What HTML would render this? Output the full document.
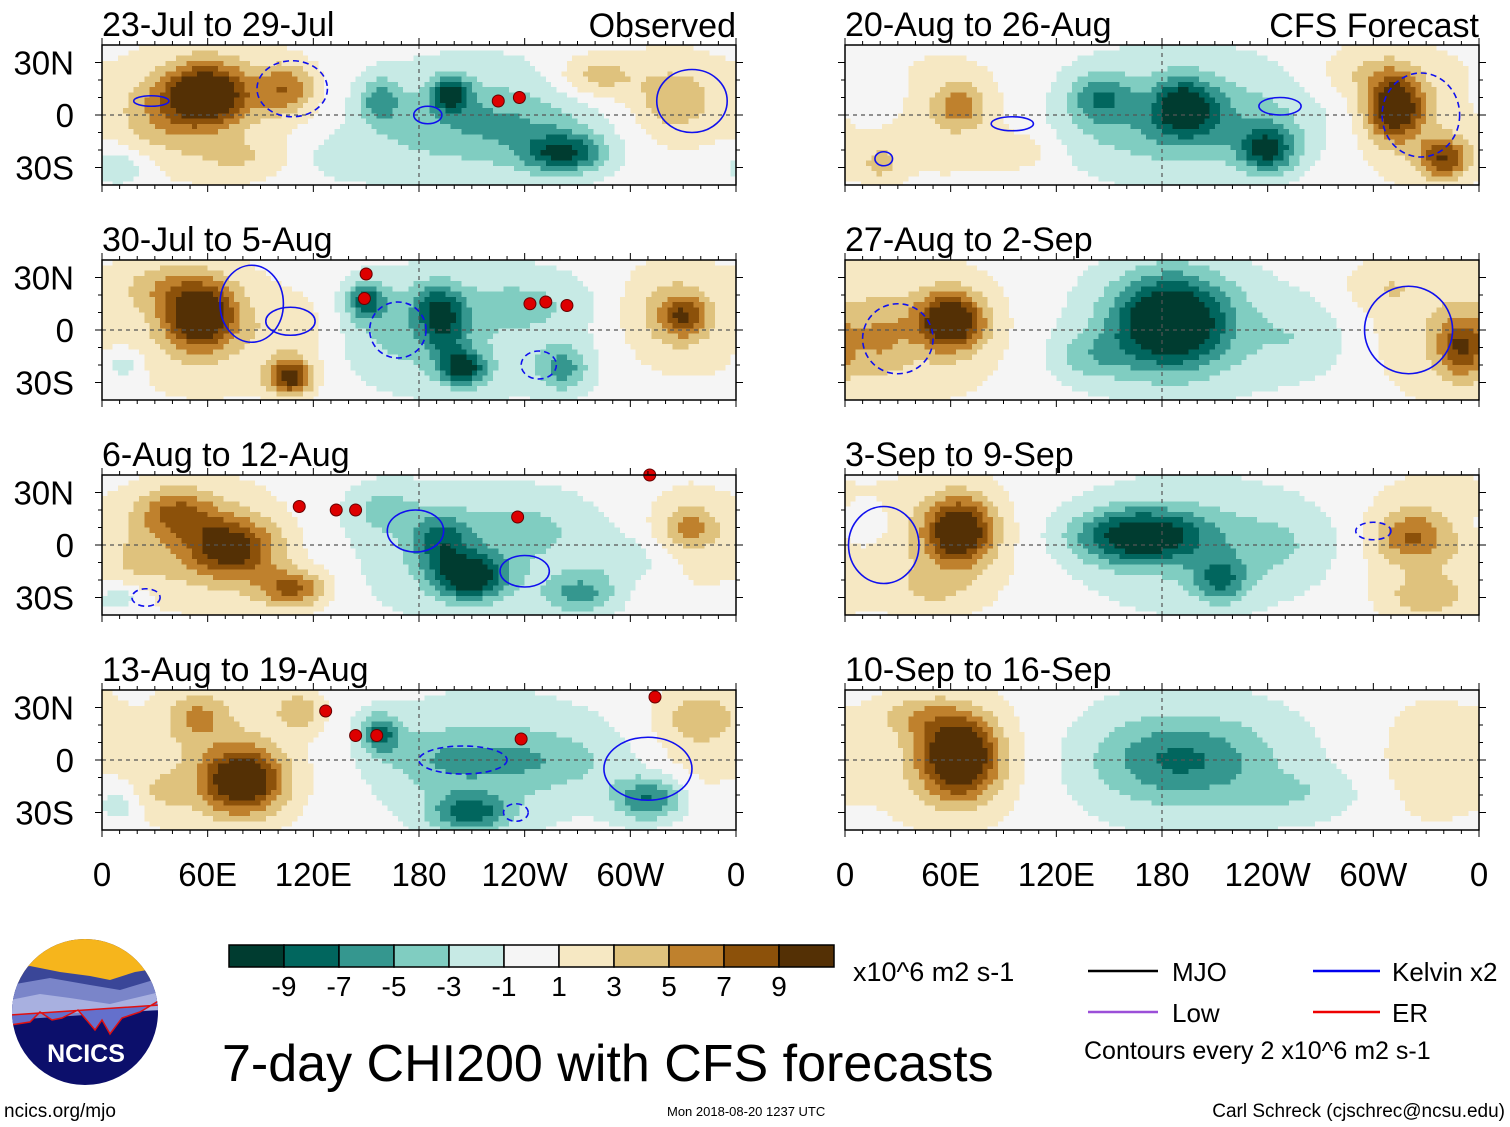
<!DOCTYPE html>
<html><head><meta charset="utf-8"><style>
html,body{margin:0;padding:0;background:#fff;}
svg{display:block;font-family:"Liberation Sans",Arial,sans-serif;}
</style></head><body>
<svg id="chart" width="1510" height="1127" viewBox="0 0 1510 1127" xmlns="http://www.w3.org/2000/svg">
<defs>
<clipPath id="logoClip"><circle cx="85" cy="1012" r="73"/></clipPath>
</defs>
<g id="panels"></g>

<g id="colorbar"></g>
<text x="853" y="981" font-size="27">x10^6 m2 s-1</text>

<g>
<line x1="1088" y1="971" x2="1158" y2="971" stroke="#000" stroke-width="2.5"/>
<text x="1172" y="981" font-size="26">MJO</text>
<line x1="1313" y1="971" x2="1380" y2="971" stroke="#0000ee" stroke-width="2.5"/>
<text x="1392" y="981" font-size="26">Kelvin x2</text>
<line x1="1088" y1="1012" x2="1158" y2="1012" stroke="#9b4fd8" stroke-width="2.5"/>
<text x="1172" y="1022" font-size="26">Low</text>
<line x1="1313" y1="1012" x2="1380" y2="1012" stroke="#ee0000" stroke-width="2.5"/>
<text x="1392" y="1022" font-size="26">ER</text>
<text x="1084" y="1059" font-size="25">Contours every 2 x10^6 m2 s-1</text>
</g>

<text x="222" y="1081" font-size="52">7-day CHI200 with CFS forecasts</text>
<text x="4" y="1117" font-size="19">ncics.org/mjo</text>
<text x="667" y="1116" font-size="13">Mon 2018-08-20 1237 UTC</text>
<text x="1505" y="1117" font-size="19" text-anchor="end">Carl Schreck (cjschrec@ncsu.edu)</text>

<g clip-path="url(#logoClip)">
<rect x="10" y="938" width="150" height="150" fill="#0c0f6b"/>
<rect x="10" y="938" width="150" height="45" fill="#f6b51c"/>
<path d="M10 970 L30 966 L60 972 L90 976 L110 980 L135 972 L160 968 L160 1000 L10 1010 Z" fill="#3a4698"/>
<path d="M10 985 L50 978 L90 985 L120 990 L160 978 L160 1010 L10 1020 Z" fill="#7a85c9"/>
<path d="M10 1000 L40 994 L70 998 L110 1004 L160 992 L160 1010 L10 1015 Z" fill="#a8b0e0"/>
<path d="M10 1025 L30 1022 L40 1012 L52 1020 L62 1018 L78 1010 L95 1030 L102 1020 L110 1034 L122 1018 L140 1012 L160 1000 L160 1005 L10 1015 Z" fill="#6470cc" stroke="#e01010" stroke-width="1.5"/>
</g>
<text x="86" y="1062" font-size="25" font-weight="bold" fill="#fff" text-anchor="middle">NCICS</text>
</svg>
<script>
const binEdges = [-9,-7,-5,-3,-1,1,3,5,7,9];
const binColors = ["#003c30","#01665e","#35978f","#80cdc1","#c7eae5","#f5f5f5","#f6e8c3","#dfc27d","#bf812d","#8c510a","#543005"];
const colorbarLabels = ["-9","-7","-5","-3","-1","1","3","5","7","9"];
const panelTitles = ["23-Jul to 29-Jul","30-Jul to 5-Aug","6-Aug to 12-Aug","13-Aug to 19-Aug","20-Aug to 26-Aug","27-Aug to 2-Sep","3-Sep to 9-Sep","10-Sep to 16-Sep"];
const panelTags = ["Observed","","","","CFS Forecast","","",""];
const latTickLabels = ["30N","0","30S"];
const latTicks = [30,0,-30];
const lonTickLabels = ["0","60E","120E","180","120W","60W","0"];
const lonTicks = [0,60,120,180,240,300,360];
// anomaly centres per panel: [lon, lat, amplitude, lonSpread, latSpread]
const anomalyCenters = [
 [[60,12,11,16,12],[105,15,6,12,10],[35,0,3,18,15],[280,22,4,16,9],[325,8,3,14,12],[80,-25,2,20,8],[60,5,2.5,40,30],[320,10,2,25,25],
  [198,12,-8,8,7],[262,-22,-8,16,8],[158,8,-5,8,9],[225,-5,-3,40,14],[10,-30,-3,12,8],[140,-25,-2,20,8],[210,-5,-2.5,55,30]],
 [[56,8,11,14,13],[35,25,3,18,10],[107,-27,10,9,7],[110,0,2,14,14],[330,8,6,9,8],[320,12,2,20,18],[60,0,2.5,40,30],[325,5,2,25,25],
  [150,17,-7,8,8],[190,15,-5,10,9],[205,-22,-9,9,7],[195,0,-5,9,11],[262,-22,-5,10,9],[170,-2,-2,22,16],[12,-20,-3,7,6],[240,15,-2,25,10],[210,0,-2.5,55,30]],
 [[42,18,6,16,10],[73,-2,9,18,12],[108,-25,7,14,8],[334,10,4,11,8],[20,-10,2,15,12],[60,0,2.5,40,30],[330,5,2,20,25],
  [209,-18,-10,14,9],[192,2,-6,12,11],[272,-28,-5,14,8],[160,20,-3,14,10],[300,-8,-2,20,10],[240,10,-2,25,12],[10,-30,-3,10,6],[210,-5,-2.5,55,30]],
 [[80,-12,11,16,13],[55,25,4,12,10],[112,28,4,10,8],[340,25,3,16,10],[30,-20,2,12,10],[65,0,2.5,40,30],[335,10,2,20,25],
  [158,15,-7,8,8],[209,-30,-7,16,8],[311,-22,-7,14,9],[240,0,-3,35,12],[190,0,-2,20,12],[10,-25,-3,10,8],[220,0,-2.5,55,30]],
 [[312,5,11,11,13],[340,-25,8,10,8],[65,5,5,10,9],[290,25,2,16,10],[20,-28,3,8,8],[100,-20,2,15,8],[320,0,2.5,30,30],[60,0,2,35,30],
  [193,5,-8,12,11],[240,-20,-8,11,9],[145,10,-5,12,10],[200,-5,-3,50,16],[15,10,-2,12,10],[190,0,-2.5,55,30]],
 [[60,5,11,13,11],[350,-10,7,9,12],[305,25,2,16,10],[20,-5,3,12,15],[50,0,2.5,35,30],[335,0,2.5,30,30],
  [185,5,-12,22,18],[140,-15,-3,16,10],[260,-5,-2,20,15],[190,0,-2.5,50,30]],
 [[65,8,11,13,13],[321,5,5,14,10],[330,-30,3,16,8],[50,-25,2,15,8],[55,0,2.5,35,30],[330,0,2.5,30,30],
  [168,5,-10,26,11],[213,-20,-6,11,9],[250,0,-2,25,16],[10,10,-2,12,10],[195,0,-2.5,50,30]],
 [[65,2,12,15,16],[40,25,3,15,8],[60,0,2.5,35,30],[330,0,2,25,30],
  [190,0,-5,32,16],[260,-20,-2,25,10],[195,0,-2.5,55,30]]
];
// Kelvin contours: [panel, lon, lat, rx(deg), ry(deg), dashed]
const kelvinContours = [
 [0,28,8,10,3,0],[0,108,15,20,16,1],[0,185,0,8,5,0],[0,335,8,20,18,0],
 [1,107,5,14,8,0],[1,85,15,18,22,0],[1,168,0,16,16,1],[1,248,-20,10,8,1],
 [2,178,8,16,12,0],[2,240,-15,14,9,0],[2,25,-30,8,5,1],
 [3,205,0,25,8,1],[3,310,-5,25,18,0],[3,235,-30,7,5,1],
 [4,95,-5,12,4,0],[4,247,5,12,5,0],[4,327,0,22,24,1],[4,22,-25,5,4,0],
 [5,30,-5,20,20,1],[5,320,0,25,25,0],
 [6,22,0,20,22,0],[6,300,8,10,5,1]
];
// storm markers: [panel, lon, lat]
const storms = [[0,225,8],[0,237,10],[1,150,32],[1,149,18],[1,243,15],[1,252,16],[1,264,14],[2,112,22],[2,133,20],[2,144,20],[2,236,16],[2,311,40],[3,127,28],[3,144,14],[3,156,14],[3,238,12],[3,314,36]];

const LON0=[102,845], PXW=634;
const ROWT=[45,260,475,690], PH=140;
const svg=document.getElementById('chart');
const G=document.getElementById('panels');
const NS="http://www.w3.org/2000/svg";
function mk(tag,attrs,parent){const e=document.createElementNS(NS,tag);for(const k in attrs)e.setAttribute(k,attrs[k]);(parent||svg).appendChild(e);return e;}
function colorFor(v){let i=0;while(i<binEdges.length&&v>=binEdges[i])i++;return binColors[i];}

for(let p=0;p<8;p++){
  const col=p<4?0:1,row=p%4;
  const x0=LON0[col],y0=ROWT[row];
  const xs=lon=>x0+lon/360*PXW;
  const ys=lat=>y0+(40-lat)/80*PH;
  const g=mk('g',{},G);
  
  
  const step=3;
  for(let lon=0;lon<360;lon+=step){
    for(let lat=40;lat>-40;lat-=step){
      const cl=lon+step/2,ct=Math.max(lat-step/2,-40);let v=0;
      for(const c of anomalyCenters[p]){
        let dl=Math.abs(cl-c[0]);if(dl>180)dl=360-dl;
        v+=c[2]*Math.exp(-0.5*((dl/c[3])**2+((ct-c[1])/c[4])**2));
      }
      const hh=Math.min(step,lat+40);
      const r=mk('rect',{x:xs(lon).toFixed(2),y:ys(lat).toFixed(2),width:(PXW*step/360+0.6).toFixed(2),height:(PH*hh/80+0.6).toFixed(2),fill:colorFor(v),'shape-rendering':'crispEdges'},g);
      
      
    }
  }
  const eq=mk('line',{x1:x0,y1:ys(0),x2:x0+PXW,y2:ys(0),stroke:'#555','stroke-dasharray':'4,4','stroke-width':1.2},g);
  
  const dl=mk('line',{x1:xs(180),y1:y0,x2:xs(180),y2:y0+PH,stroke:'#555','stroke-dasharray':'4,4','stroke-width':1.2},g);
  
  for(const k of kelvinContours){ if(k[0]!==p)continue;
    const e=mk('ellipse',{cx:xs(k[1]),cy:ys(k[2]),rx:k[3]/360*PXW,ry:k[4]/80*PH,fill:'none',stroke:'#1010ee','stroke-width':1.6,'stroke-dasharray':k[5]?'6,4':'none'},g);
    
  }
  for(const s of storms){ if(s[0]!==p)continue;
    const c=mk('circle',{cx:xs(s[1]),cy:ys(s[2]),r:6,fill:'#d00',stroke:'#600','stroke-width':1},g);
    
  }
  const fr=mk('rect',{x:x0,y:y0,width:PXW,height:PH,fill:'none',stroke:'#000','stroke-width':1.5},g);
  
  for(let lon=0;lon<=360;lon+=10){
    const L=lon%60===0?7:4;
    mk('line',{x1:xs(lon),y1:y0,x2:xs(lon),y2:y0-L,stroke:'#000','stroke-width':1},g);
    mk('line',{x1:xs(lon),y1:y0+PH,x2:xs(lon),y2:y0+PH+L,stroke:'#000','stroke-width':1},g);
  }
  for(let lat=-30;lat<=30;lat+=10){
    const L=lat%30===0?7:4;
    mk('line',{x1:x0,y1:ys(lat),x2:x0-L,y2:ys(lat),stroke:'#000','stroke-width':1},g);
    mk('line',{x1:x0+PXW,y1:ys(lat),x2:x0+PXW+L,y2:ys(lat),stroke:'#000','stroke-width':1},g);
  }
  const t=mk('text',{x:x0,y:y0-9,'font-size':34},g);t.textContent=panelTitles[p];
  
  if(panelTags[p]){const tg=mk('text',{x:x0+PXW,y:y0-8,'font-size':34,'text-anchor':'end'},g);tg.textContent=panelTags[p];
    }
  if(col===0){latTicks.forEach((lt,i)=>{const tx=mk('text',{x:74,y:ys(lt)+12,'font-size':33,'text-anchor':'end'},g);tx.textContent=latTickLabels[i];
    });}
  if(row===3){lonTicks.forEach((ln,i)=>{const tx=mk('text',{x:xs(ln),y:886,'font-size':33,'text-anchor':'middle'},g);tx.textContent=lonTickLabels[i];
    });}
}
const cb=document.getElementById('colorbar');
const cbx=229,cby=945,cbw=55,cbh=22;
binColors.forEach((c,i)=>{const r=mk('rect',{x:cbx+i*cbw,y:cby,width:cbw,height:cbh,fill:c,stroke:'#000','stroke-width':1.5},cb);
  });
colorbarLabels.forEach((l,i)=>{const t=mk('text',{x:cbx+(i+1)*cbw,y:996,'font-size':28,'text-anchor':'middle'},cb);t.textContent=l;
  });
</script>
</body></html>
